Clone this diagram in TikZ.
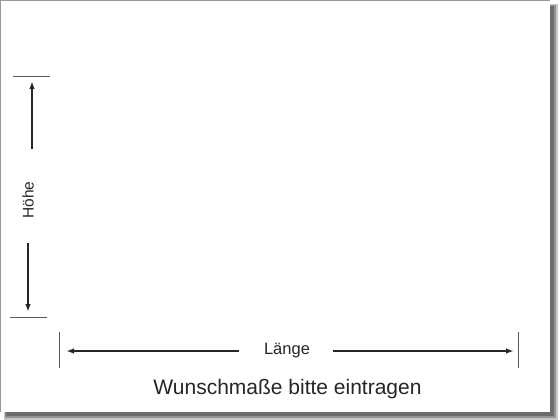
\documentclass[tikz,border=0pt]{standalone}
\usepackage{fontspec}
\setmainfont{Liberation Sans}
\usetikzlibrary{arrows.meta}
\definecolor{shadowA}{gray}{0.78}
\definecolor{shadowB}{gray}{0.58}
\definecolor{shadowC}{gray}{0.42}
\definecolor{linegray}{gray}{0.15}
\tikzset{
  dimarrow/.style={line width=1.7pt, draw=linegray, -{Latex[length=8pt,width=5.5pt]}},
  dimtick/.style={line width=0.8pt, draw=gray!70!black},
  lbl/.style={text=black!85, inner sep=0pt, anchor=base}
}
\begin{document}
\begin{tikzpicture}[x=1pt,y=-1pt]
\useasboundingbox (0,0) rectangle (560,420);
\fill[white] (0,0) rectangle (560,420);
% shadow
\fill[shadowA] (4,4) rectangle (557.5,419.5);
\fill[shadowB] (5,5) rectangle (555.5,417.5);
\fill[shadowC] (6,6) rectangle (553.5,415.5);
% frame
\fill[white] (0,0) rectangle (549.5,411.5);
\draw[gray!80, line width=1.2pt] (0.6,411.5) -- (0.6,0.6) -- (549.5,0.6);
% height dimension
\coordinate (ht1) at (13,76);
\coordinate (ht2) at (50,76);
\coordinate (hb1) at (10,317);
\coordinate (hb2) at (47,317);
\draw[dimtick] (ht1) -- (ht2);
\draw[dimtick] (hb1) -- (hb2);
\coordinate (hu0) at (32,149);
\coordinate (hu1) at (32,81);
\coordinate (hd0) at (28,243);
\coordinate (hd1) at (28,312);
\draw[dimarrow] (hu0) -- (hu1);
\draw[dimarrow] (hd0) -- (hd1);
\node[lbl, rotate=90, font=\fontsize{15.5}{17}\selectfont] (hoehe) at (33.5,200) {Höhe};
% length dimension
\coordinate (lt1) at (59,332);
\coordinate (lt2) at (59,368);
\coordinate (rt1) at (518,332);
\coordinate (rt2) at (518,368);
\draw[dimtick] (lt1) -- (lt2);
\draw[dimtick] (rt1) -- (rt2);
\coordinate (ll0) at (239,351);
\coordinate (ll1) at (66,351);
\coordinate (rl0) at (333,351);
\coordinate (rl1) at (514,351);
\draw[dimarrow] (ll0) -- (ll1);
\draw[dimarrow] (rl0) -- (rl1);
\node[lbl, font=\fontsize{16.5}{18}\selectfont] (laenge) at (287,354) {Länge};
\node[lbl, font=\fontsize{21}{24}\selectfont] (wunsch) at (287.5,394) {Wunschmaße bitte eintragen};
\end{tikzpicture}
\end{document}
